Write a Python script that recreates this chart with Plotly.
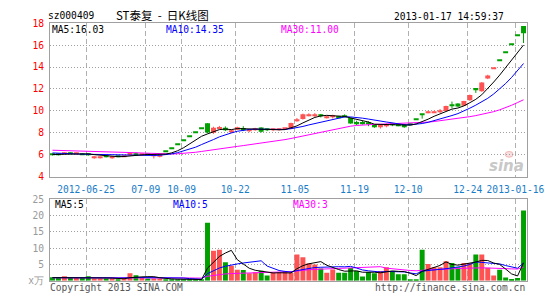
import plotly.graph_objects as go
import pandas as pd

# ---------------- data ----------------
tick_idx = [6, 16, 22, 31, 41, 51, 60, 70, 78]
tick_text = ["2012-06-25", "07-09", "10-09", "10-22", "11-05", "11-19", "12-10", "12-24", "2013-01-16"]

open_ = [6.05, 6.02, 6.05, 6.18, 6.10, 6.10, 6.05, 5.72, 5.72, 5.85,
         5.80, 5.85, 5.84, 5.95, 6.10, 6.00, 6.02, 5.90, 5.80, 6.30,
         6.62, 6.95, 7.30, 7.66, 8.04, 8.44, 8.86, 8.00, 8.42, 8.45,
         8.15, 8.28, 8.40, 8.18, 8.30, 8.47, 8.32, 8.25, 8.30, 8.38,
         8.36, 9.10, 9.25, 9.58, 9.58, 9.62, 9.40, 9.45, 9.48, 9.55,
         9.35, 8.95, 8.95, 8.90, 8.78, 8.50, 8.65, 8.80, 8.68, 8.68,
         8.82, 9.23, 9.70, 9.85, 9.88, 9.95, 9.98, 10.58, 10.67, 10.47,
         10.96, 12.03, 11.80, 12.96, 13.86, 14.62, 15.35, 16.12, 16.90, 17.75]
high = [6.10, 6.08, 6.20, 6.20, 6.18, 6.12, 6.12, 5.85, 5.82, 5.90,
        5.86, 5.88, 5.92, 6.18, 6.20, 6.05, 6.05, 5.95, 6.02, 6.30,
        6.62, 6.95, 7.30, 7.66, 8.04, 8.44, 8.86, 8.55, 8.62, 8.58,
        8.30, 8.55, 8.60, 8.30, 8.45, 8.50, 8.38, 8.40, 8.42, 8.42,
        8.92, 9.35, 9.75, 9.78, 9.80, 9.72, 9.55, 9.65, 9.50, 9.68,
        9.40, 9.10, 9.08, 9.05, 8.80, 8.78, 8.85, 8.92, 8.70, 8.80,
        8.85, 9.23, 9.70, 10.02, 10.02, 10.17, 10.48, 10.85, 10.70, 10.92,
        11.49, 12.05, 12.63, 13.30, 13.90, 14.62, 15.35, 16.12, 16.90, 17.75]
low = [5.92, 5.93, 6.02, 6.04, 6.05, 6.00, 5.90, 5.62, 5.65, 5.75,
       5.62, 5.80, 5.82, 5.92, 5.90, 5.95, 5.95, 5.65, 5.75, 6.30,
       6.62, 6.95, 7.30, 7.66, 8.04, 8.44, 7.95, 7.90, 8.35, 8.15,
       7.97, 8.25, 8.15, 8.05, 8.18, 8.02, 8.15, 8.15, 8.20, 8.32,
       8.32, 9.00, 9.20, 9.50, 9.42, 9.40, 9.30, 9.30, 9.40, 9.40,
       8.82, 8.70, 8.75, 8.60, 8.45, 8.38, 8.50, 8.60, 8.60, 8.45,
       8.72, 9.23, 9.29, 9.78, 9.80, 9.81, 9.96, 10.23, 10.35, 10.45,
       10.92, 11.64, 11.75, 12.90, 13.86, 14.62, 15.35, 16.12, 16.90, 16.20]
close = [6.00, 6.00, 6.15, 6.08, 6.12, 6.02, 5.95, 5.82, 5.80, 5.80,
         5.83, 5.82, 5.88, 6.15, 6.02, 6.02, 5.98, 5.92, 6.00, 6.30,
         6.62, 6.95, 7.30, 7.66, 8.04, 8.44, 8.02, 8.45, 8.48, 8.30,
         8.18, 8.50, 8.35, 8.22, 8.35, 8.08, 8.28, 8.32, 8.35, 8.40,
         8.88, 9.18, 9.70, 9.62, 9.62, 9.56, 9.45, 9.52, 9.45, 9.50,
         8.85, 8.88, 8.88, 8.78, 8.50, 8.75, 8.70, 8.75, 8.65, 8.60,
         8.79, 9.23, 9.68, 9.90, 9.93, 10.00, 10.45, 10.52, 10.40, 10.90,
         11.46, 12.00, 12.60, 13.23, 13.89, 14.62, 15.35, 16.12, 16.90, 17.10]
volume = [1.1, 1.0, 1.4, 0.9, 0.9, 0.9, 1.4, 0.7, 0.7, 0.7,
          0.7, 0.4, 0.7, 2.3, 1.7, 1.0, 0.7, 0.7, 0.7, 0.4,
          0.4, 0.4, 0.4, 0.4, 0.4, 0.5, 17.8, 9.2, 9.5, 5.7,
          4.6, 3.4, 3.3, 2.3, 2.6, 3.1, 1.6, 2.5, 2.6, 2.9,
          2.5, 8.1, 7.2, 5.4, 5.0, 3.8, 2.5, 3.5, 2.5, 2.5,
          3.9, 3.0, 1.3, 2.7, 2.3, 3.0, 4.2, 3.0, 2.0, 2.0,
          0.5, 0.5, 9.5, 5.2, 4.2, 4.2, 6.0, 5.5, 4.2, 5.5,
          5.5, 8.1, 8.1, 4.0, 1.6, 3.4, 1.0, 0.6, 0.9, 21.6]

# sessions before the visible window (needed for the moving averages)
prior_close = [6.40, 6.38, 6.35, 6.33, 6.30, 6.32, 6.36, 6.40, 6.35, 6.31,
               6.55, 6.68, 6.75, 6.80, 6.78, 6.72, 6.70, 6.66, 6.64, 6.72,
               6.40, 6.35, 6.30, 6.25, 6.20, 6.05, 6.00, 5.98, 6.02]
prior_volume = [0.8, 1.2, 0.9, 0.7, 1.0, 1.3, 0.9, 0.8, 1.1, 0.9,
                1.0, 0.8, 0.7, 1.2, 0.9, 1.0, 0.8, 0.9, 1.1, 0.7,
                0.9, 1.0, 0.8, 1.2, 0.9, 1.0, 0.8, 1.1, 0.9]

header_left = "sz000409"
header_title = "ST泰复\u00a0\u00a0-\u00a0\u00a0日K线图"
header_time = "2013-01-17 14:59:37"
price_ma_labels = ["MA5:16.03", "MA10:14.35", "MA30:11.00"]
vol_ma_labels = ["MA5:5", "MA10:5", "MA30:3"]

# ---------------- derived ----------------
n = len(close)
xs = list(range(n))
k = len(prior_close)
cs = pd.Series(prior_close + close)
vs = pd.Series(prior_volume + volume)
ma_p = {w: cs.rolling(w).mean().iloc[k:].tolist() for w in (5, 10, 30)}
ma_v = {w: vs.rolling(w).mean().iloc[k:].tolist() for w in (5, 10, 30)}

RED = "#ff5353"
GREEN = "#00a000"
MA_COLORS = {5: "#000000", 10: "#0000ff", 30: "#ff00ff"}
MONO = "DejaVu Sans Mono"

is_up = [c > o for o, c in zip(open_, close)]
MIN_BODY = 0.13

fig = go.Figure()

for up, col in ((True, RED), (False, GREEN)):
    idx = [i for i in xs if is_up[i] == up]
    bx, bbase, bh = [], [], []
    for i in idx:
        lo_, hi_ = min(open_[i], close[i]), max(open_[i], close[i])
        h = max(hi_ - lo_, MIN_BODY)
        bx.append(i)
        bbase.append((lo_ + hi_) / 2 - h / 2)
        bh.append(h)
    fig.add_trace(go.Bar(x=bx, y=bh, base=bbase, width=5 / 6, marker=dict(color=col, line=dict(width=0)),
                         xaxis="x", yaxis="y", hoverinfo="skip"))
    wx, wy = [], []
    for i in idx:
        wx += [i, i, None]
        wy += [low[i], high[i], None]
    fig.add_trace(go.Scatter(x=wx, y=wy, mode="lines", line=dict(color=col, width=1),
                             xaxis="x", yaxis="y", hoverinfo="skip"))
    fig.add_trace(go.Bar(x=idx, y=[volume[i] for i in idx], width=5 / 6,
                         marker=dict(color=col, line=dict(width=0)),
                         xaxis="x2", yaxis="y2", hoverinfo="skip"))

for w in (30, 10, 5):
    fig.add_trace(go.Scatter(x=xs, y=ma_p[w], mode="lines", line=dict(color=MA_COLORS[w], width=1),
                             xaxis="x", yaxis="y", hoverinfo="skip"))
    fig.add_trace(go.Scatter(x=xs, y=ma_v[w], mode="lines", line=dict(color=MA_COLORS[w], width=1),
                             xaxis="x2", yaxis="y2", hoverinfo="skip"))

W, H = 545, 300
L, R = 50, 15
PW = W - L - R
xr = [-5 / 12, n - 5 / 12]
tickvals = [t - 0.35 for t in tick_idx]


def px_x(p):
    return (p - L) / PW


def px_y(p):
    return 1 - p / H


axis_common = dict(showline=True, linecolor="#a0a0a0", linewidth=1, mirror=True, zeroline=False,
                   ticks="", fixedrange=True)

fig.update_layout(
    width=W, height=H, margin=dict(l=L, r=R, t=0, b=0),
    paper_bgcolor="white", plot_bgcolor="white", showlegend=False, barmode="overlay",
    xaxis=dict(domain=[0, 1], range=xr, anchor="y", tickmode="array", tickvals=tickvals, ticktext=tick_text,
               showgrid=True, gridcolor="#b0b0b0", griddash="5px,3px", gridwidth=1,
               tickfont=dict(family=MONO, size=9.6, color="#1a7dc8"), tickangle=0,
               ticklabeloverflow="allow", ticklabelstandoff=4, **axis_common),
    yaxis=dict(domain=[px_y(177), px_y(18)], range=[4, 18], tick0=4, dtick=2, anchor="x",
               showgrid=True, gridcolor="#a0a0a0", griddash="1px,2px", gridwidth=1,
               tickfont=dict(family=MONO, size=9.6, color="#ff0000"), ticklabelstandoff=3, **axis_common),
    xaxis2=dict(domain=[0, 1], range=xr, anchor="y2", tickmode="array", tickvals=tickvals,
                showticklabels=False, showgrid=True, gridcolor="#b0b0b0", griddash="5px,3px", gridwidth=1,
                **axis_common),
    yaxis2=dict(domain=[px_y(285.3), px_y(200.7)], range=[0, 25], anchor="x2", tickmode="array",
                tickvals=[0, 5, 10, 15, 20, 25], ticktext=["x万", "5", "10", "15", "20", "25"],
                showgrid=True, gridcolor="#a0a0a0", griddash="1px,2px", gridwidth=1,
                tickfont=dict(family=MONO, size=9.6, color="#999999"), ticklabelstandoff=3, **axis_common),
)

ann = []


def add_text(text, x, y, color="#000000", size=9.6, anchor="left", family=MONO, **kw):
    ann.append(dict(text=text, x=px_x(x), y=px_y(y), xref="paper", yref="paper", showarrow=False,
                    xanchor=anchor, yanchor="middle", font=dict(family=family, size=size, color=color),
                    borderpad=0, **kw))


add_text(header_left, 47, 10)
add_text(header_title, 115, 9, size=11.5, family="Noto Sans CJK SC")
add_text(header_time, 508, 11, anchor="right")
for lab, x0, w in zip(price_ma_labels, (51, 166, 281), (5, 10, 30)):
    add_text(lab, x0, 24, color=MA_COLORS[w])
for lab, x0, w in zip(vol_ma_labels, (54, 173, 294), (5, 10, 30)):
    add_text(lab, x0, 206, color=MA_COLORS[w])
add_text("Copyright 2013 SINA.COM", 49, 292, color="#555555")
add_text("http://finance.sina.com.cn", 529, 292, color="#555555", anchor="right")
add_text("<b><i>sina</i></b>", 528, 166, color="#c8c8c8", size=15, anchor="right", family="DejaVu Sans")
fig.update_layout(annotations=ann)

# small eye mark of the watermark
fig.add_shape(type="circle", xref="paper", yref="paper",
              x0=px_x(508), x1=px_x(516), y0=px_y(157), y1=px_y(151),
              line=dict(color="#f0b8b8", width=1), fillcolor="#f8dede", layer="below")

fig.write_html("out.html")
